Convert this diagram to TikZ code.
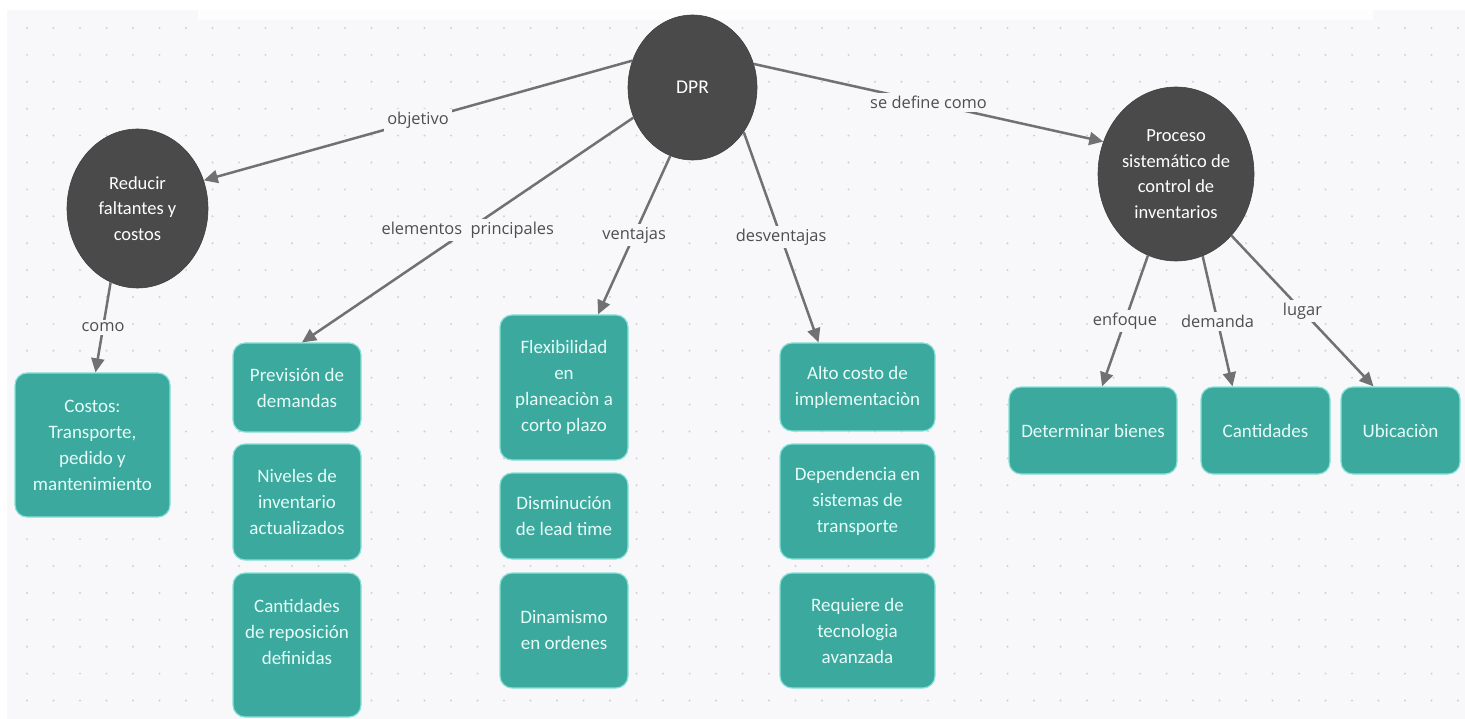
\documentclass[tikz,border=0pt]{standalone}
\usepackage{fontspec}
\setmainfont{Carlito}
\newfontfamily\tagfont{Open Sans}
\usetikzlibrary{arrows.meta,shapes.geometric}

\definecolor{canvas}{HTML}{F8F8FA}
\definecolor{griddot}{HTML}{D0D0D6}
\definecolor{hub}{HTML}{4A4A4A}
\definecolor{tealbox}{HTML}{3BA99E}
\definecolor{tealedge}{HTML}{86E2D8}
\definecolor{boxtext}{HTML}{E6FCF8}
\definecolor{wire}{HTML}{717171}
\definecolor{tagtext}{HTML}{4E4E4E}

\tikzset{
  hubnode/.style={ellipse, fill=hub, draw=hub!85!black, line width=0.6pt,
    text=white, align=center, inner sep=0pt,
    font=\fontsize{18.5}{25.5}\selectfont},
  card/.style={rounded corners=12pt, fill=tealbox, draw=tealedge,
    line width=1.2pt, text=boxtext, align=center, inner sep=0pt,
    font=\fontsize{19}{26}\selectfont},
  link/.style={draw=wire, line width=2.5pt,
    -{Triangle[length=14pt,width=13pt]}},
  tag/.style={fill=canvas, text=tagtext, inner sep=3pt,
    font=\tagfont\fontsize{16.4}{19}\selectfont},
}

\begin{document}
\begin{tikzpicture}[x=1pt,y=-1pt]
\useasboundingbox (0,0) rectangle (1465,719);

% dotted canvas
\fill[white] (0,0) rectangle (1465,719);
\fill[canvas] (7,10) rectangle (1465,719);
\fill[white!70!canvas] (198,10) rectangle (1373,20);
\foreach \i in {0,...,54}
  \foreach \j in {0,...,25}
    \fill[griddot] (27+26.5*\i, 28+26.9*\j) circle[radius=1.1];

% hubs
\node[hubnode, minimum width=129pt, minimum height=145pt] (dpr) at (692.5,87.5)
  {\fontsize{19.5}{25}\selectfont DPR};
\node[hubnode, minimum width=141pt, minimum height=159pt] (reducir) at (137.5,208.5)
  {Reducir\\faltantes y\\costos};
\node[hubnode, minimum width=156pt, minimum height=174pt] (proceso) at (1176,174)
  {Proceso\\sistemático de\\control de\\inventarios};

% cards
\node[card, minimum width=155pt, minimum height=144pt] (costos) at (92.5,445)
  {Costos:\\Transporte,\\pedido y\\mantenimiento};

\node[card, minimum width=128pt, minimum height=89pt] (prev) at (297,387.5)
  {Previsión de\\demandas};
\node[card, minimum width=128pt, minimum height=116pt] (niv) at (297,502)
  {Niveles de\\inventario\\actualizados};
\node[card, minimum width=128pt, minimum height=144pt] (cantrep) at (297,645)
  {Cantidades\\de reposición\\definidas\\\mbox{}};

\node[card, minimum width=128pt, minimum height=145pt] (flex) at (564,387.5)
  {Flexibilidad\\en\\planeaciòn a\\corto plazo};
\node[card, minimum width=128pt, minimum height=86pt] (dism) at (564,516)
  {Disminución\\de lead time};
\node[card, minimum width=128pt, minimum height=115pt] (dina) at (564,630.5)
  {Dinamismo\\en ordenes};

\node[card, minimum width=155pt, minimum height=88pt] (alto) at (857.5,387)
  {Alto costo de\\implementaciòn};
\node[card, minimum width=155pt, minimum height=115pt] (dep) at (857.5,501.5)
  {Dependencia en\\sistemas de\\transporte};
\node[card, minimum width=155pt, minimum height=115pt] (req) at (857.5,630.5)
  {Requiere de\\tecnologia\\avanzada};

\node[card, minimum width=168pt, minimum height=87pt] (det) at (1093,430.5)
  {Determinar bienes};
\node[card, minimum width=129pt, minimum height=87pt] (cant) at (1265.5,430.5)
  {Cantidades};
\node[card, minimum width=119pt, minimum height=87pt] (ubi) at (1400.5,430.5)
  {Ubicaciòn};

% labelled links
\draw[link] (dpr.156) -- node[tag] {objetivo} (reducir.23);
\draw[link] (dpr.207) -- node[tag] {elementos\ \ principales} ([xshift=5pt]prev.north);
\draw[link] (dpr.252) -- node[tag] {ventajas} ([xshift=34pt]flex.north);
\draw[link] (dpr.319) -- node[tag] {desventajas} ([xshift=-39pt]alto.north);
\draw[link] (dpr.21) -- node[tag] {se define como} (proceso.156);
\draw[link] (reducir.250) -- node[tag] {como} ([xshift=3pt]costos.north);
\draw[link] (proceso.251) -- node[tag] {enfoque} ([xshift=9pt]det.north);
\draw[link] (proceso.288) -- node[tag] {demanda} ([xshift=-33pt]cant.north);
\draw[link] (proceso.312) -- node[tag] {lugar} ([xshift=-27pt]ubi.north);
\end{tikzpicture}
\end{document}
